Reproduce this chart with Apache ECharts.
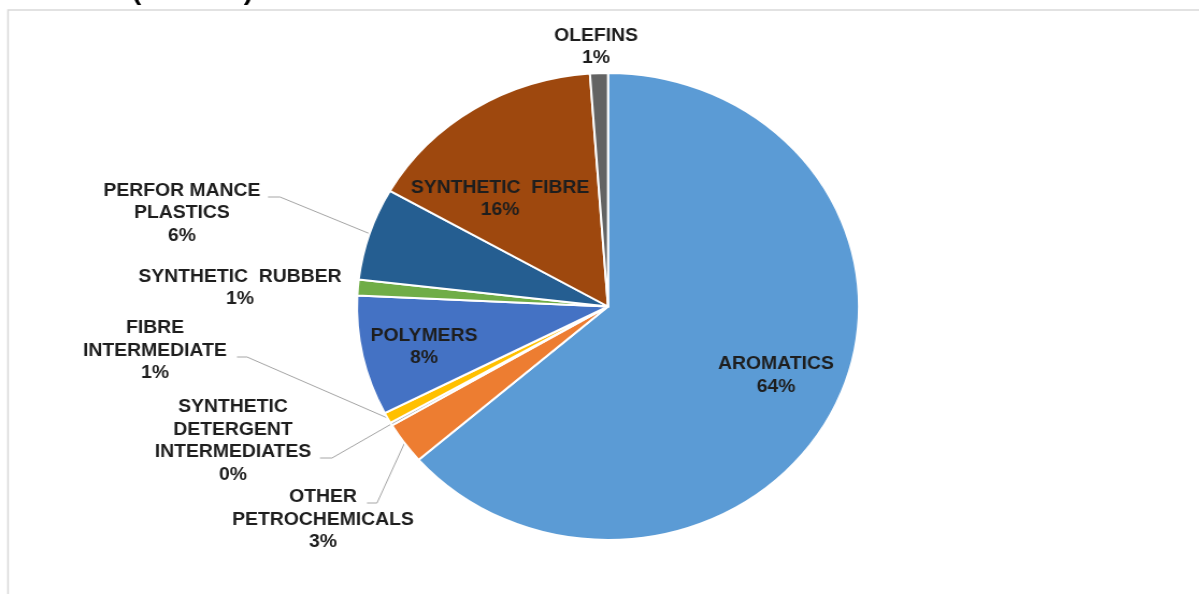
<!DOCTYPE html>
<html><head><meta charset="utf-8">
<script src="https://cdn.jsdelivr.net/npm/echarts@6/dist/echarts.min.js"></script>
<style>
html,body{margin:0;padding:0;background:#fff;overflow:hidden}
#wrap{width:1199px;height:594px;position:relative;overflow:hidden}
#chart{position:absolute;left:0;top:0;width:1116px;height:594px;transform:scaleX(1.0749);transform-origin:0 0}
</style></head>
<body><div id="wrap"><div id="chart"></div></div>
<script>
// ---- data ----
const categories = ['AROMATICS', 'OTHER\nPETROCHEMICALS', 'SYNTHETIC\nDETERGENT\nINTERMEDIATES', 'FIBRE\nINTERMEDIATE', 'POLYMERS', 'SYNTHETIC  RUBBER', 'PERFOR MANCE\nPLASTICS', 'SYNTHETIC  FIBRE', 'OLEFINS'];
const values = [63.6, 2.9, 0.2, 0.75, 8.3, 1.1, 6.4, 15.6, 1.15];
const titleText = '2022 (2022-23)';

// ---- styling / layout ----
const SX = 1.0749;
const colors = ['#5B9BD5', '#ED7D31', '#A5A5A5', '#FFC000', '#4472C4', '#70AD47', '#255E91', '#9E480E', '#636363'];
const withLine = [false, true, true, true, false, false, true, false, false];
const labelAt = [[776, 375.5], [323, 520], [233, 441], [155, 351], [424, 347], [240, 288], [182, 213.5], [500, 199], [596, 47]];
const leader = {1: [[377, 503], [367, 503]], 2: [[332, 458], [320, 458]], 3: [[247, 357], [237, 357]], 6: [[280, 197], [268, 197]]};

const chart = echarts.init(document.getElementById('chart'), null, {renderer: 'canvas'});
chart.setOption({
  animation: false,
  backgroundColor: '#ffffff',
  graphic: [
    {type: 'rect', shape: {x: 8 / SX, y: 10, width: 1300, height: 700}, style: {fill: 'none', stroke: '#D9D9D9', lineWidth: 1.5}, silent: true},
    {type: 'text', x: 62 / SX, y: -7, style: {text: titleText, font: 'bold 26px "Liberation Sans", Arial, sans-serif', fill: '#000', verticalAlign: 'middle'}, silent: true}
  ],
  series: [{
    type: 'pie',
    center: [608 / SX, 306.5],
    radius: 233.5,
    startAngle: 90,
    clockwise: true,
    avoidLabelOverlap: false,
    itemStyle: {borderColor: '#ffffff', borderWidth: 2},
    label: {
      show: true,
      position: 'outside',
      formatter: p => p.name + '\n' + Math.round(p.percent) + '%',
      fontFamily: '"Liberation Sans", Arial, sans-serif',
      fontWeight: 'bold',
      fontSize: 18,
      lineHeight: 22.5,
      color: '#1E1E1E'
    },
    labelLine: {show: true, smooth: false, length: 10, length2: 10, lineStyle: {color: '#A6A6A6', width: 1}},
    labelLayout: function (p) {
      const i = p.dataIndex;
      const a = labelAt[i];
      const r = {x: a[0] / SX, y: a[1], align: 'center', verticalAlign: 'middle'};
      if (leader[i] && p.labelLinePoints && p.labelLinePoints.length) {
        r.labelLinePoints = [p.labelLinePoints[0], [leader[i][0][0] / SX, leader[i][0][1]], [leader[i][1][0] / SX, leader[i][1][1]]];
      }
      return r;
    },
    data: categories.map((c, i) => ({
      name: c,
      value: values[i],
      itemStyle: {color: colors[i]},
      labelLine: {show: withLine[i]}
    }))
  }]
});
</script>
</body></html>
